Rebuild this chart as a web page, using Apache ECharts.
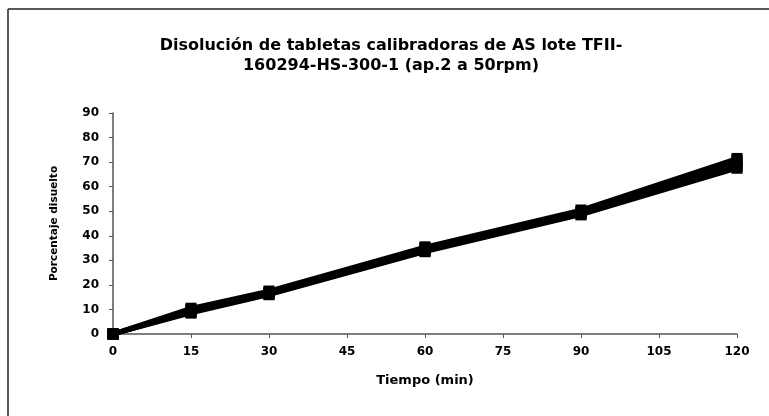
<!DOCTYPE html>
<html>
<head>
<meta charset="utf-8">
<script src="https://cdn.jsdelivr.net/npm/echarts@6/dist/echarts.min.js"></script>
<style>html,body{margin:0;padding:0;background:#fff;}#c{width:769px;height:416px;}</style>
</head>
<body>
<div id="c"></div>
<script>
var tiempos = [0, 15, 30, 60, 90, 120];
var xTicks = [0, 15, 30, 45, 60, 75, 90, 105, 120];
var tableta1 = [0, 10.5, 17.5, 35.5, 50.5, 71.5];
var tableta2 = [0, 10.0, 17.0, 35.0, 50.0, 70.8];
var tableta3 = [0, 9.5, 16.8, 34.6, 49.6, 70.3];
var tableta4 = [0, 9.0, 16.5, 34.2, 49.2, 68.5];
var tableta5 = [0, 8.8, 16.2, 33.8, 48.8, 68.0];
var tableta6 = [0, 8.5, 16.0, 33.5, 48.5, 67.5];
var tabletas = [tableta1, tableta2, tableta3, tableta4, tableta5, tableta6];

var chart = echarts.init(document.getElementById('c'), null, {renderer: 'canvas'});
var font = 'DejaVu Sans';
var series = tabletas.map(function (vals, i) {
  return {
    type: 'line',
    name: 'Tableta ' + (i + 1),
    data: tiempos.map(function (t, j) { return [t, vals[j]]; }),
    symbol: 'rect',
    symbolSize: 11,
    lineStyle: {color: '#000', width: 4.5},
    itemStyle: {color: '#000'},
    animation: false
  };
});
chart.setOption({
  backgroundColor: '#fff',
  animation: false,
  title: {
    text: 'Disolución de tabletas calibradoras de AS lote TFII-\n160294-HS-300-1 (ap.2 a 50rpm)',
    left: 386,
    top: 31,
    textAlign: 'center',
    textStyle: {fontFamily: font, fontWeight: 'bold', fontSize: 16, color: '#000', lineHeight: 20}
  },
  graphic: [
    {type: 'line', shape: {x1: 8, y1: 9, x2: 769, y2: 9}, style: {stroke: '#222', lineWidth: 1.5}, silent: true},
    {type: 'line', shape: {x1: 8, y1: 9, x2: 8, y2: 416}, style: {stroke: '#222', lineWidth: 1.5}, silent: true}
  ],
  grid: {left: 113, right: 32, top: 113, bottom: 82, containLabel: false},
  xAxis: {
    type: 'value',
    min: 0, max: 120, interval: 15,
    name: 'Tiempo (min)',
    nameLocation: 'middle',
    nameGap: 40,
    nameTextStyle: {fontFamily: font, fontWeight: 'bold', fontSize: 13, color: '#000'},
    axisLine: {lineStyle: {color: '#555', width: 1.5}},
    axisTick: {show: true, length: 4, inside: false, lineStyle: {color: '#555'}},
    axisLabel: {fontFamily: font, fontWeight: 'bold', fontSize: 12, color: '#000', margin: 12,
      formatter: function (v) { return xTicks.indexOf(v) >= 0 ? String(v) : ''; }},
    splitLine: {show: false}
  },
  yAxis: {
    type: 'value',
    min: 0, max: 90, interval: 10,
    name: 'Porcentaje disuelto',
    nameLocation: 'middle',
    nameRotate: 90,
    nameGap: 53,
    nameTextStyle: {fontFamily: font, fontWeight: 'bold', fontSize: 10.5, color: '#000'},
    axisLine: {show: true, lineStyle: {color: '#555', width: 1.5}},
    axisTick: {show: true, length: 4, lineStyle: {color: '#555'}},
    axisLabel: {fontFamily: font, fontWeight: 'bold', fontSize: 12, color: '#000', margin: 14},
    splitLine: {show: false}
  },
  series: series
});
</script>
</body>
</html>
